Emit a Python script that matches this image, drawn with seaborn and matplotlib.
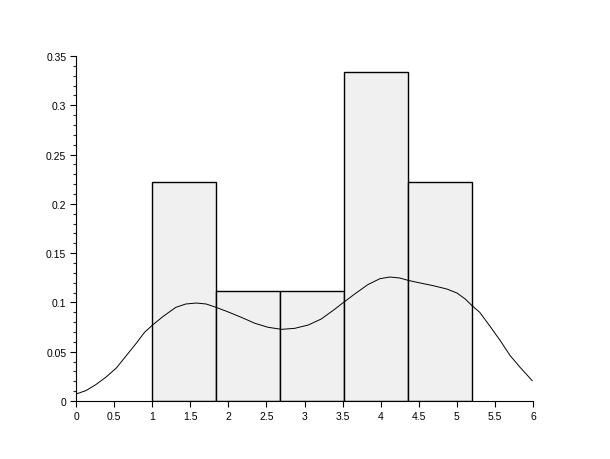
import numpy as np
import pandas as pd
import matplotlib
matplotlib.use("Agg")
import matplotlib.pyplot as plt
from matplotlib.ticker import MultipleLocator
import seaborn as sns

# ==========================================
# data
# ==========================================
bin_edges = [1.0, 1.84, 2.68, 3.52, 4.36, 5.2]
bar_heights = [2 / 9, 1 / 9, 1 / 9, 3 / 9, 2 / 9]

curve_x = [0.0, 0.13, 0.26, 0.39, 0.53, 0.66, 0.79, 0.9, 1.01, 1.14, 1.31, 1.44,
           1.58, 1.71, 1.84, 2.0, 2.17, 2.35, 2.52, 2.7, 2.87, 3.05, 3.22, 3.4,
           3.53, 3.66, 3.83, 3.99, 4.12, 4.25, 4.36, 4.52, 4.69, 4.87, 5.0, 5.11,
           5.2, 5.3, 5.43, 5.57, 5.7, 5.83, 5.99]
curve_y = [0.0071, 0.0105, 0.0166, 0.024, 0.0335, 0.046, 0.0585, 0.0697, 0.0774,
           0.0856, 0.095, 0.0984, 0.0994, 0.0984, 0.095, 0.0903, 0.0849, 0.0788,
           0.0748, 0.0727, 0.0737, 0.0771, 0.0832, 0.0933, 0.1011, 0.1086, 0.118,
           0.1241, 0.1258, 0.1248, 0.1224, 0.1197, 0.117, 0.1136, 0.1096, 0.1035,
           0.0967, 0.09, 0.0764, 0.0612, 0.046, 0.0342, 0.0206]

sns.set_style("ticks")
plt.rcParams['font.family'] = ['Liberation Sans', 'DejaVu Sans']

bin_centers = [(a + b) / 2 for a, b in zip(bin_edges[:-1], bin_edges[1:])]
df_hist = pd.DataFrame({'x': bin_centers, 'w': bar_heights})
df_curve = pd.DataFrame({'x': curve_x, 'y': curve_y})

fig = plt.figure(figsize=(6.1, 4.6), dpi=100)
ax = fig.add_axes([0.1246, 0.1261, 0.7492, 0.7499])

sns.histplot(data=df_hist, x='x', weights='w', bins=bin_edges, ax=ax,
             color='#f0f0f0', edgecolor='black', linewidth=1.0, alpha=1.0)
sns.lineplot(data=df_curve, x='x', y='y', ax=ax, color='black', linewidth=0.7)

ax.set_xlim(0, 6)
ax.set_ylim(0, 0.35)
ax.set_xlabel('')
ax.set_ylabel('')

ax.xaxis.set_major_locator(MultipleLocator(0.5))
ax.yaxis.set_major_locator(MultipleLocator(0.05))
ax.yaxis.set_minor_locator(MultipleLocator(0.01))
ax.xaxis.set_major_formatter(plt.FuncFormatter(lambda v, p: f'{v:g}'))
ax.yaxis.set_major_formatter(plt.FuncFormatter(lambda v, p: f'{v:g}'))

ax.tick_params(axis='both', which='major', direction='out', length=4, width=0.8,
               labelsize=7.5, colors='black', pad=3)
ax.tick_params(axis='y', which='minor', direction='out', length=2.5, width=0.8)

sns.despine(ax=ax)
for side in ['left', 'bottom']:
    ax.spines[side].set_linewidth(0.8)
    ax.spines[side].set_color('black')

fig.savefig('out.png', dpi=100)
plt.close(fig)
